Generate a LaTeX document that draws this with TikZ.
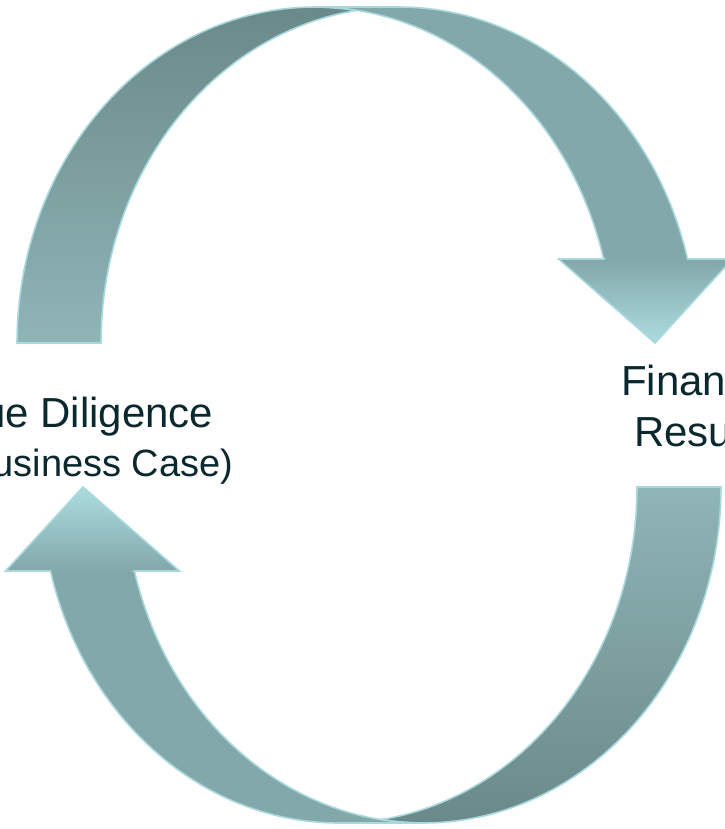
\documentclass[tikz,border=0pt]{standalone}
\usepackage{fontspec}
\setmainfont{Liberation Sans}
\definecolor{bandcol}{HTML}{82A8A9}
\definecolor{headlight}{HTML}{ACDCE0}
\definecolor{backdark}{HTML}{6A898A}
\definecolor{backlight}{HTML}{90B5B7}
\definecolor{edgecol}{HTML}{A9D9DD}
\definecolor{txtcol}{HTML}{0A282D}
\tikzset{
  edgeline/.style={draw=edgecol, line width=1.6pt, line join=miter},
  lbl/.style={text=txtcol, inner sep=0pt, font=\fontsize{42}{50}\selectfont},
  lblsmall/.style={text=txtcol, inner sep=0pt, font=\fontsize{38}{46}\selectfont}
}
% geometry (pixel units, y downwards)
\def\frontpath{(655,343) -- (558.54,259) -- (603.54,259)
  -- plot[domain=-14.4775:-90, samples=70] ({315+298*cos(\x)},{343+336*sin(\x)})
  -- (399,7)
  -- plot[domain=-90:-14.4775, samples=70] ({399+298*cos(\x)},{343+336*sin(\x)})
  -- (732.54,259) -- cycle}
\def\backpath{plot[domain=261.897:180, samples=70] ({399+298*cos(\x)},{343+336*sin(\x)})
  -- (17,343)
  -- plot[domain=180:278.103, samples=70] ({315+298*cos(\x)},{343+336*sin(\x)}) -- cycle}
\def\headpath{(558.54,259) -- (732.54,259) -- (655,343) -- cycle}
\begin{document}
\begin{tikzpicture}[x=1pt, y=-1pt]
\useasboundingbox (0,0) rectangle (724,829);
% ---------- top arrow (pointing down) ----------
\shade[top color=backdark, bottom color=backlight] \backpath;
\draw[edgeline] \backpath;
\fill[bandcol] \frontpath;
\shade[top color=bandcol, bottom color=headlight] \headpath;
\draw[edgeline] \frontpath;
% ---------- bottom arrow (pointing up) ----------
\begin{scope}[rotate around={180:(369,415)}]
\shade[top color=backlight, bottom color=backdark] \backpath;
\draw[edgeline] \backpath;
\fill[bandcol] \frontpath;
\shade[top color=headlight, bottom color=bandcol] \headpath;
\draw[edgeline] \frontpath;
\end{scope}
% ---------- labels ----------
\node[lbl, anchor=base east] (dd1) at (213.5,427) {Due Diligence};
\node[lblsmall, anchor=base east] (dd2) at (233.5,476.5) {(Business Case)};
\node[lbl, anchor=base west] (fr1) at (621,395) {Financial};
\node[lbl, anchor=base west] (fr2) at (634,446) {Results};
\end{tikzpicture}
\end{document}
